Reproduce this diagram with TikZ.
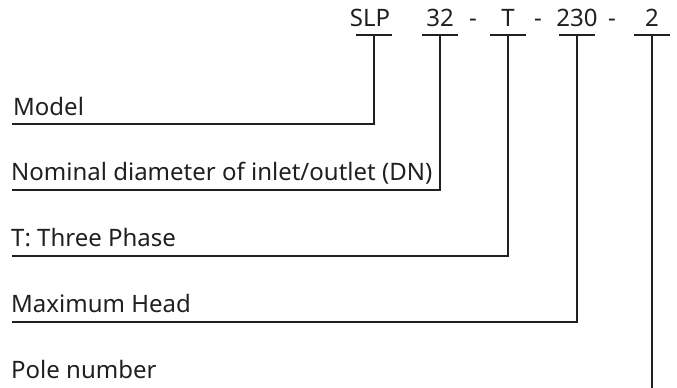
\documentclass[tikz,border=0pt]{standalone}
\usepackage{fontspec}
\setmainfont{Noto Sans}
\definecolor{ink}{HTML}{231F20}
\begin{document}
\begin{tikzpicture}[x=1pt,y=-1pt,
  lbl/.style={anchor=base west,inner sep=0pt,text=ink,font=\fontsize{24}{28}\selectfont},
  code/.style={anchor=base,inner sep=0pt,text=ink,font=\fontsize{24}{28}\selectfont},
  ln/.style={draw=ink,line width=1.8pt}]
\useasboundingbox (0,0) rectangle (677,388);
% code parts
\node[code] (slp) at (370,26) {SLP};
\node[code] (n32) at (440,26) {32};
\node[code] (d1) at (473,26) {-};
\node[code] (tt) at (508,26) {T};
\node[code] (d2) at (538,26) {-};
\node[code] (h230) at (577,26) {230};
\node[code] (d3) at (612,26) {-};
\node[code] (p2) at (652,26) {2};
% labels
\node[lbl] (model) at (13,115) {Model};
\node[lbl] (dn) at (11,180) {Nominal diameter of inlet/outlet (DN)};
\node[lbl] (phase) at (11,246) {T: Three Phase};
\node[lbl] (head) at (11,312) {Maximum Head};
\node[lbl] (pole) at (11,378) {Pole number};
% stems
\coordinate (s1) at (374,35);
\coordinate (s2) at (440,35);
\coordinate (s3) at (508,35);
\coordinate (s4) at (577,35);
\coordinate (s5) at (652,35);
\coordinate (e1) at (12,124);
\coordinate (e2) at (12,190);
\coordinate (e3) at (12,256);
\coordinate (e4) at (12,322);
\coordinate (e5) at (652,388);
\foreach \s in {s1,s2,s3,s4,s5}{
  \draw[ln] ([xshift=-18pt]\s) -- ([xshift=18pt]\s);
}
\draw[ln] (s1) |- (e1);
\draw[ln] (s2) |- (e2);
\draw[ln] (s3) |- (e3);
\draw[ln] (s4) |- (e4);
\draw[ln] (s5) -- (e5);
\end{tikzpicture}
\end{document}
